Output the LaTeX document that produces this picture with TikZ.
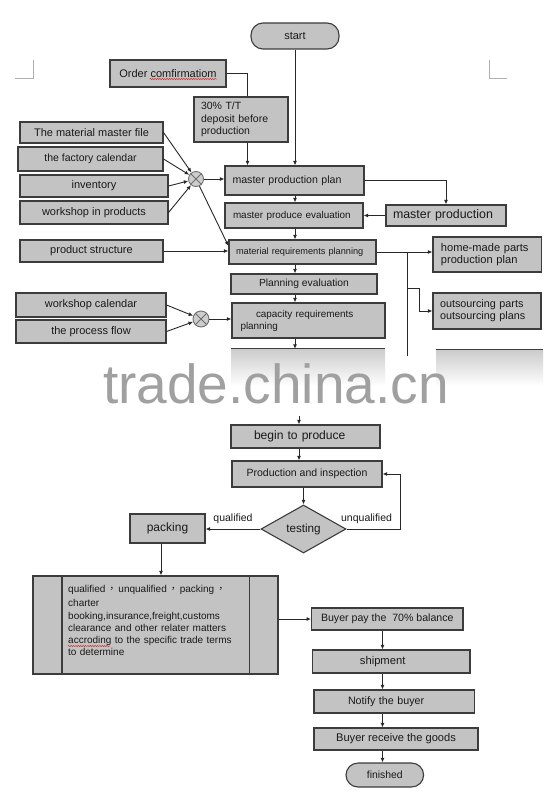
\documentclass[tikz,border=0pt]{standalone}
\usepackage{fontspec}
\setmainfont{Liberation Sans}
\newfontfamily\cjk{Noto Sans CJK TC}
\usetikzlibrary{shapes.geometric,arrows.meta,decorations.pathmorphing}
\definecolor{boxfill}{RGB}{195,195,195}
\definecolor{boxline}{RGB}{60,60,60}
\definecolor{linkcol}{RGB}{40,40,40}
\definecolor{txt}{RGB}{25,25,25}
\definecolor{circfill}{RGB}{205,205,205}
\definecolor{circline}{RGB}{110,110,110}
\definecolor{wmgray}{RGB}{160,160,160}
\definecolor{cropgray}{RGB}{175,175,175}
\definecolor{spell}{RGB}{215,45,45}
\newcommand{\fsz}[2]{\fontsize{#1}{#2}\selectfont}
\newcommand{\cjkcomma}{\hspace{1.5pt}{\cjk ，}\hspace{1.5pt}}
\begin{document}
\begin{tikzpicture}[x=1pt,y=-1pt,
    box/.style={draw=boxline,fill=boxfill,line width=1.1pt,inner sep=0pt,text=txt,font=\fsz{10.5}{12.5}},
    inbox/.style={box,font=\fsz{11}{13}},
    term/.style={box,rounded corners=12pt},
    decision/.style={diamond,draw=boxline,fill=boxfill,line width=1.1pt,inner sep=0pt,
        minimum width=85pt,minimum height=48pt,text=txt,font=\fsz{11.7}{13}},
    xcirc/.style={circle,draw=circline,fill=circfill,line width=0.9pt,minimum size=15pt,inner sep=0pt},
    hidbox/.style={top color=boxfill!85,bottom color=white,draw=none,inner sep=0pt},
    lnk/.style={draw=linkcol,line width=0.9pt},
    arr/.style={lnk,-{Latex[length=4.5pt,width=4pt]}},
    lbl/.style={text=txt,font=\fsz{10.5}{12},inner sep=1pt},
    crop/.style={draw=cropgray,line width=0.8pt},
    spellmark/.style={draw=spell,line width=0.5pt,decorate,
        decoration={snake,amplitude=0.6pt,segment length=2.4pt}}]
    \fill[white] (0,0) rectangle (552,800);
    \useasboundingbox (0,0) rectangle (552,800);

    % page corner marks
    \draw[crop] (15,78) -- (33,78) -- (33,60);
    \draw[crop] (489,60) -- (489,78) -- (507,78);

    % upper part: planning
    \node[term,minimum width=88pt,minimum height=26pt,font=\fsz{11}{13}] (start) at (295,36) {start};
    \node[inbox,minimum width=116pt,minimum height=27pt] (order) at (168,73.5) {Order comfirmatiom};
    \node[box,minimum width=94pt,minimum height=45pt,text width=80pt,align=left] (dep) at (241,119.5) {30\% T/T\\deposit before\\production};

    \node[inbox,minimum width=143pt,minimum height=21pt] (mmf) at (91.5,132.5) {The material master file};
    \node[inbox,minimum width=145pt,minimum height=24pt,font=\fsz{10.5}{12}] (fc) at (90.5,159) {the factory calendar};
    \node[inbox,minimum width=148pt,minimum height=22pt] (inv) at (94,186) {inventory};
    \node[inbox,minimum width=148pt,minimum height=23pt] (wip) at (94,212.5) {workshop in products};
    \node[inbox,minimum width=143pt,minimum height=22pt] (ps) at (91.5,251) {product structure};
    \node[inbox,minimum width=150pt,minimum height=24pt] (wc) at (91,305) {workshop calendar};
    \node[inbox,minimum width=150pt,minimum height=23pt] (pf) at (91,331.5) {the process flow};
    \node[xcirc] (x1) at (196,179) {};
    \node[xcirc,minimum size=16pt] (x2) at (201,319) {};
    \foreach \c in {x1,x2}
        \draw[circline,line width=0.8pt] (\c.north west) -- (\c.south east) (\c.north east) -- (\c.south west);

    \node[box,minimum width=139pt,minimum height=29pt,text width=124pt,align=left,font=\fsz{10.6}{12}] (mpp) at (294.5,180.5) {master production plan};
    \node[box,minimum width=138pt,minimum height=25pt,text width=122pt,align=left,font=\fsz{9.9}{12}] (mpe) at (294,215.5) {master produce evaluation};
    \node[box,minimum width=120pt,minimum height=21pt,text width=106pt,align=left,font=\fsz{12.4}{14}] (mprod) at (446,215.5) {master production};
    \node[box,minimum width=147pt,minimum height=24pt,text width=133pt,align=left,font=\fsz{9.2}{11}] (mrp) at (302.5,252) {material requirements planning};
    \node[box,minimum width=108.5pt,minimum height=35pt,text width=92.5pt,align=left,font=\fsz{11.1}{12.7}] (home) at (487.2,254.5) {home-made parts\\production plan};
    \node[box,minimum width=108pt,minimum height=36pt,text width=94pt,align=left,font=\fsz{10.8}{12}] (out) at (487,311) {outsourcing parts\\outsourcing plans};
    \node[box,minimum width=146pt,minimum height=20pt,font=\fsz{10.3}{12}] (pe) at (304,284) {Planning evaluation};
    \node[box,minimum width=153pt,minimum height=35pt,text width=136pt,align=left,font=\fsz{9.9}{12}] (crp) at (308.5,320.5) {\hspace*{15.5pt}capacity requirements\\planning};

    % boxes under the watermark
    \node[hidbox,minimum width=154pt,minimum height=37pt] (hidA) at (308,367.5) {};
    \node[hidbox,minimum width=107pt,minimum height=36pt] (hidB) at (489.5,368) {};
    \draw[boxline,line width=1.1pt] (hidA.north west) -- (hidA.north east);
    \draw[boxline,line width=1.1pt] (hidB.north west) -- (hidB.north east);

    \coordinate (spine) at (295,0);
    \coordinate (brtop) at (407,252);
    \coordinate (brmid) at (407,288);
    \coordinate (brend) at (407,356);

    \draw[arr] (start.south -| spine) -- (mpp.north -| spine);
    \draw[lnk] (order.east) -| ([xshift=6.5pt]dep.north);
    \draw[arr] ([xshift=6.5pt]dep.south) -- ([xshift=6.5pt]dep.south |- mpp.north);
    \foreach \n in {mmf,fc,inv,wip}
        \draw[arr] (\n.east) -- (x1);
    \draw[arr] (x1) -- (x1 -| mpp.west);
    \draw[arr] (x1) -- ([yshift=6pt]mrp.west);
    \draw[arr] (mpp.east) -| (mprod.north);
    \draw[arr] (mprod.west) -- (mprod.west -| mpe.east);
    \draw[arr] (mpp.south -| spine) -- (mpe.north -| spine);
    \draw[arr] (mpe.south -| spine) -- (mrp.north -| spine);
    \draw[arr] (ps.east) -- (ps.east -| mrp.west);
    \draw[arr] (mrp.east) -- (mrp.east -| home.west);
    \draw[lnk] (brtop) -- (brend);
    \draw[arr] (brmid) -| ([xshift=-13pt]out.west) -- (out.west);
    \draw[arr] (mrp.south -| spine) -- (pe.north -| spine);
    \draw[arr] (pe.south -| spine) -- (crp.north -| spine);
    \foreach \n in {wc,pf}
        \draw[arr] (\n.east) -- (x2);
    \draw[arr] (x2) -- (x2 -| crp.west);
    \draw[arr] (crp.south -| spine) -- (hidA.north -| spine);

    \node[font=\fsz{55}{60},text=wmgray,anchor=base west,inner sep=0pt] (wm) at (103,403) {trade.china.cn};

    % lower part: production and delivery
    \coordinate (gap) at (299,416);
    \node[box,minimum width=149pt,minimum height=23pt,text width=103pt,align=left,font=\fsz{12.1}{14}] (begin) at (305.5,436.5) {begin to produce};
    \node[box,minimum width=150pt,minimum height=26pt] (pi) at (307,474) {Production and inspection};
    \node[decision] (test) at (303.5,529) {testing};
    \node[box,minimum width=75pt,minimum height=29pt,font=\fsz{12}{14}] (pack) at (167.5,528.5) {packing};
    \node[box,minimum width=245pt,minimum height=98pt] (big) at (155.5,625) {};
    \draw[boxline,line width=1.1pt] ([xshift=29.5pt]big.north west) -- ([xshift=29.5pt]big.south west)
        ([xshift=-29.5pt]big.north east) -- ([xshift=-29.5pt]big.south east);
    \node[anchor=north west,inner sep=0pt,text width=170pt,align=left,text=txt,font=\fsz{10}{12.2}] (bigtxt) at (68,585)
        {qualified\cjkcomma unqualified\cjkcomma packing\cjkcomma\\[2.3pt]charter\\booking,insurance,freight,customs\\clearance and other relater matters\\accroding to the specific trade terms\\to determine};

    \node[box,minimum width=151.4pt,minimum height=22pt,font=\fsz{10.6}{12}] (pay) at (387.3,619) {Buyer pay the~ 70\% balance};
    \node[box,minimum width=157.3pt,minimum height=23pt,text width=62.7pt,align=left,font=\fsz{11.2}{13}] (ship) at (391.3,661.5) {shipment};
    \node[box,minimum width=160.6pt,minimum height=23pt,text width=92.6pt,align=left,font=\fsz{10.7}{12}] (notify) at (394.3,701.5) {Notify the buyer};
    \node[box,minimum width=164pt,minimum height=22pt,font=\fsz{11.1}{13}] (receive) at (396,739) {Buyer receive the goods};
    \node[term,minimum width=77.6pt,minimum height=24pt,font=\fsz{10.4}{12}] (fin) at (384.8,775) {finished};

    \coordinate (rspine) at (382.5,0);
    \draw[arr] (gap) -- (gap |- begin.north);
    \draw[arr] (begin.south -| gap) -- (pi.north -| gap);
    \draw[arr] (pi.south -| test) -- (test.north);
    \draw[arr] (test.west) -- node[lbl,above,yshift=4pt] {qualified} (test.west -| pack.east);
    \draw[arr] (test.east) -- node[lbl,above,xshift=-7pt,yshift=4pt] {unqualified} ++(54,0) |- (pi.east);
    \draw[arr] ([xshift=-6.5pt]pack.south) -- ([xshift=-6.5pt]pack.south |- big.north);
    \draw[arr] (big.east |- pay.west) -- (pay.west);
    \draw[arr] (pay.south -| rspine) -- (ship.north -| rspine);
    \draw[arr] (ship.south -| rspine) -- (notify.north -| rspine);
    \draw[arr] (notify.south -| rspine) -- (receive.north -| rspine);
    \draw[arr] (receive.south -| rspine) -- (fin.north -| rspine);

    % spelling marks
    \draw[spellmark] (149.6,79) -- (217,79);
    \draw[spellmark] (68,646) -- (110,646);
\end{tikzpicture}
\end{document}
